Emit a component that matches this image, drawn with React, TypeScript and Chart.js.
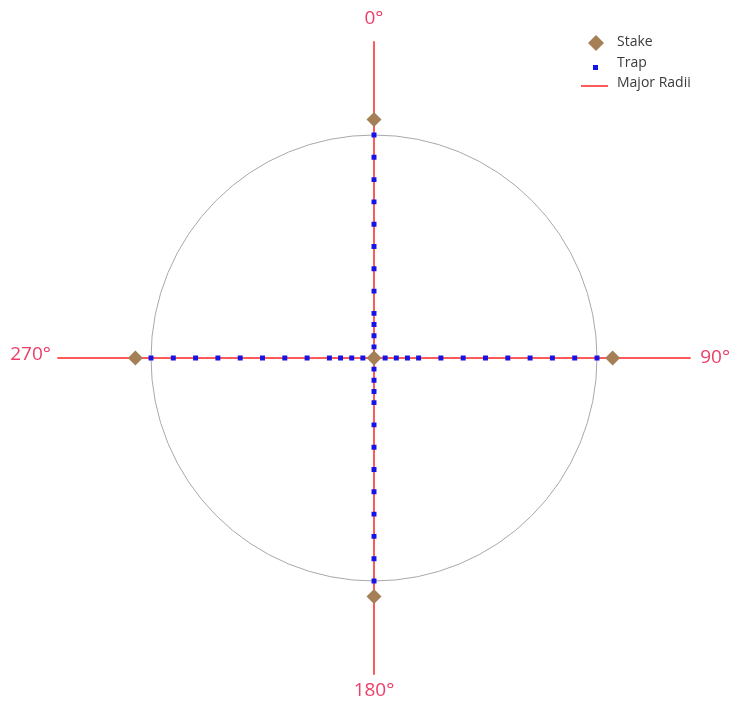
import React, { useEffect, useRef } from "react";
import { Chart, registerables } from "chart.js";

Chart.register(...registerables);

// ---- data (metres from centre) ----
const BEARINGS = [0, 90, 180, 270];
const BEARING_LABELS = ["0°", "90°", "180°", "270°"];
const LABEL_DISTANCES = [76, 76.5, 74.5, 77];
const TRAP_DISTANCES = [2.5, 5, 7.5, 10, 15, 20, 25, 30, 35, 40, 45, 50];
const STAKE_DISTANCES = [0, 53.5];
const RADII_LENGTH = 71;
const CIRCLE_RADIUS = 50;
const LEGEND_LABELS = ["Stake", "Trap", "Major Radii"];

const toXY = (bearing: number, d: number) => {
  const r = (bearing * Math.PI) / 180;
  return { x: Math.round(d * Math.sin(r) * 1000) / 1000, y: Math.round(d * Math.cos(r) * 1000) / 1000 };
};

const trapPoints = BEARINGS.flatMap((b) => TRAP_DISTANCES.map((d) => toXY(b, d)));
const stakePoints = [toXY(0, STAKE_DISTANCES[0]), ...BEARINGS.map((b) => toXY(b, STAKE_DISTANCES[1]))];
const radiiNS = [toXY(0, RADII_LENGTH), toXY(180, RADII_LENGTH)];
const radiiEW = [toXY(270, RADII_LENGTH), toXY(90, RADII_LENGTH)];

const STAKE_COLOR = "#a57f55";
const TRAP_COLOR = "#1414e6";
const RADII_COLOR = "#ff5a5a";
const LABEL_COLOR = "#ee3d67";

export default function App() {
  const ref = useRef<HTMLCanvasElement | null>(null);
  useEffect(() => {
    if (!ref.current) return;
    const decor = {
      id: "decor",
      beforeDatasetsDraw(chart: any) {
        const { ctx, scales } = chart;
        const sx = scales.x, sy = scales.y;
        const cx = sx.getPixelForValue(0), cy = sy.getPixelForValue(0);
        const r = sx.getPixelForValue(CIRCLE_RADIUS) - cx;
        ctx.save();
        ctx.strokeStyle = "#a8a8a8";
        ctx.lineWidth = 1;
        ctx.beginPath();
        ctx.arc(cx, cy, r, 0, Math.PI * 2);
        ctx.stroke();
        ctx.restore();
      },
      afterDraw(chart: any) {
        const { ctx, scales } = chart;
        const sx = scales.x, sy = scales.y;
        ctx.save();
        ctx.fillStyle = LABEL_COLOR;
        ctx.font = '19px "Open Sans", sans-serif';
        ctx.textAlign = "center";
        ctx.textBaseline = "middle";
        BEARINGS.forEach((b, i) => {
          const p = toXY(b, LABEL_DISTANCES[i]);
          ctx.fillText(BEARING_LABELS[i], sx.getPixelForValue(p.x), sy.getPixelForValue(p.y) - (b === 270 ? 3 : 0));
        });
        // legend
        const lx = 596;
        const rows = [43, 64, 84];
        ctx.fillStyle = STAKE_COLOR;
        ctx.beginPath();
        ctx.moveTo(lx, rows[0] - 8);
        ctx.lineTo(lx + 8, rows[0]);
        ctx.lineTo(lx, rows[0] + 8);
        ctx.lineTo(lx - 8, rows[0]);
        ctx.closePath();
        ctx.fill();
        ctx.fillStyle = TRAP_COLOR;
        ctx.fillRect(lx - 3, rows[1] + 1, 5, 5);
        ctx.strokeStyle = RADII_COLOR;
        ctx.lineWidth = 2;
        ctx.beginPath();
        ctx.moveTo(581, rows[2] + 2);
        ctx.lineTo(608, rows[2] + 2);
        ctx.stroke();
        ctx.fillStyle = "#3a3a3a";
        ctx.font = '14px "Open Sans", sans-serif';
        ctx.textAlign = "left";
        LEGEND_LABELS.forEach((t, i) => ctx.fillText(t, 617, rows[i] - 1));
        ctx.restore();
      },
    };
    const chart = new Chart(ref.current, {
      type: "scatter",
      data: {
        datasets: [
          {
            label: LEGEND_LABELS[0],
            data: stakePoints,
            pointStyle: "rectRot",
            pointRadius: 7.5,
            backgroundColor: STAKE_COLOR,
            borderWidth: 0,
            order: 0,
          },
          {
            label: LEGEND_LABELS[1],
            data: trapPoints,
            pointStyle: "rect",
            pointRadius: 3.5,
            backgroundColor: TRAP_COLOR,
            borderWidth: 0,
            order: 1,
          },
          {
            label: LEGEND_LABELS[2],
            data: radiiNS,
            showLine: true,
            pointRadius: 0,
            borderColor: RADII_COLOR,
            borderWidth: 2,
            order: 2,
          },
          {
            label: LEGEND_LABELS[2] + " EW",
            data: radiiEW,
            showLine: true,
            pointRadius: 0,
            borderColor: RADII_COLOR,
            borderWidth: 2,
            order: 2,
          },
        ],
      },
      options: {
        animation: false,
        responsive: false,
        maintainAspectRatio: false,
        layout: { autoPadding: false, padding: { left: 17.2, right: 2.2, top: 23.5, bottom: 11.5 } },
        scales: {
          x: { type: "linear", min: -80, max: 80, display: false },
          y: { type: "linear", min: -75, max: 75, display: false },
        },
        plugins: {
          legend: { display: false },
          tooltip: { enabled: false },
        },
      },
      plugins: [decor],
    });
    return () => chart.destroy();
  }, []);
  return (
    <div style={{ position: "fixed", left: 0, top: 0, width: 733, height: 704, background: "#fff" }}>
      <canvas ref={ref} width={733} height={704} style={{ width: 733, height: 704, display: "block" }} />
    </div>
  );
}
